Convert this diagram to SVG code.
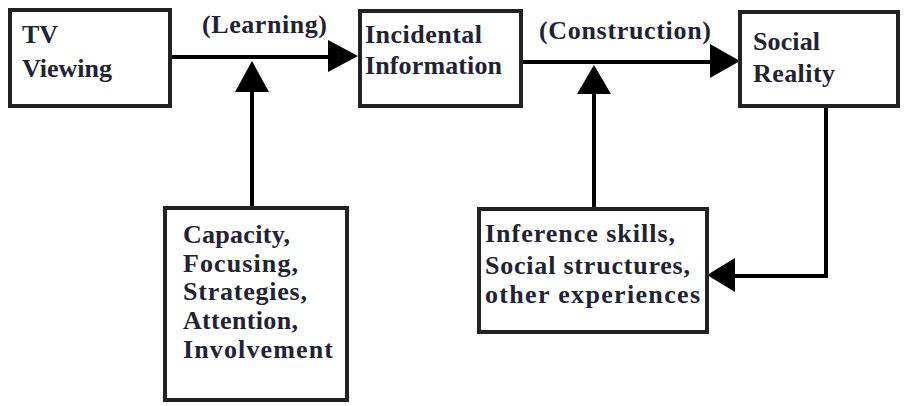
<svg xmlns="http://www.w3.org/2000/svg" width="906" height="406" viewBox="0 0 906 406">
<style>
.box{fill:#fff;stroke:#222;stroke-width:4}
.t{font-family:"Liberation Serif","Times New Roman",serif;font-weight:bold;font-size:26px;fill:#1f2333}
.ln{stroke:#000;stroke-width:4;fill:none}
.hd{fill:#000;stroke:none}
</style>
<rect width="906" height="406" fill="#fff"/>
<g id="connectors">
<line class="ln" x1="170" y1="57" x2="330" y2="57"/>
<polygon class="hd" points="328,40 358,56 328,72"/>
<line class="ln" x1="252" y1="207" x2="252" y2="90"/>
<polygon class="hd" points="235,92 252,61 269,92"/>
<line class="ln" x1="521" y1="62" x2="712" y2="62"/>
<polygon class="hd" points="710,44 740,61 710,78"/>
<line class="ln" x1="594" y1="209" x2="594" y2="92"/>
<polygon class="hd" points="577,94 594,65 611,94"/>
<polyline class="ln" points="826,106 826,276 733,276"/>
<polygon class="hd" points="735,258 707,275 735,292"/>
<text class="t" x="202" y="33" textLength="125" lengthAdjust="spacing">(Learning)</text>
<text class="t" x="539" y="39" textLength="172" lengthAdjust="spacing">(Construction)</text>
</g>
<g id="tv">
<rect class="box" x="10" y="10" width="160" height="96"/>
<text class="t" x="22" y="43">TV</text>
<text class="t" x="22" y="77" textLength="90" lengthAdjust="spacing">Viewing</text>
</g>
<g id="incidental">
<rect class="box" x="360" y="11" width="161" height="95"/>
<text class="t" x="365" y="43" textLength="117" lengthAdjust="spacing">Incidental</text>
<text class="t" x="365" y="74" textLength="137" lengthAdjust="spacing">Information</text>
</g>
<g id="social">
<rect class="box" x="740" y="12" width="158" height="94"/>
<text class="t" x="753" y="50" textLength="67" lengthAdjust="spacing">Social</text>
<text class="t" x="753" y="82" textLength="82" lengthAdjust="spacing">Reality</text>
</g>
<g id="capacity">
<rect class="box" x="165" y="208" width="182" height="192"/>
<text class="t" x="183" y="243" textLength="107" lengthAdjust="spacing">Capacity,</text>
<text class="t" x="183" y="272" textLength="115" lengthAdjust="spacing">Focusing,</text>
<text class="t" x="183" y="300" textLength="124" lengthAdjust="spacing">Strategies,</text>
<text class="t" x="183" y="329" textLength="115" lengthAdjust="spacing">Attention,</text>
<text class="t" x="183" y="358" textLength="150" lengthAdjust="spacing">Involvement</text>
</g>
<g id="inference">
<rect class="box" x="479" y="209" width="228" height="123"/>
<text class="t" x="485" y="242" textLength="190" lengthAdjust="spacing">Inference skills,</text>
<text class="t" x="485" y="274" textLength="205" lengthAdjust="spacing">Social structures,</text>
<text class="t" x="485" y="303" textLength="215" lengthAdjust="spacing">other experiences</text>
</g>
</svg>
